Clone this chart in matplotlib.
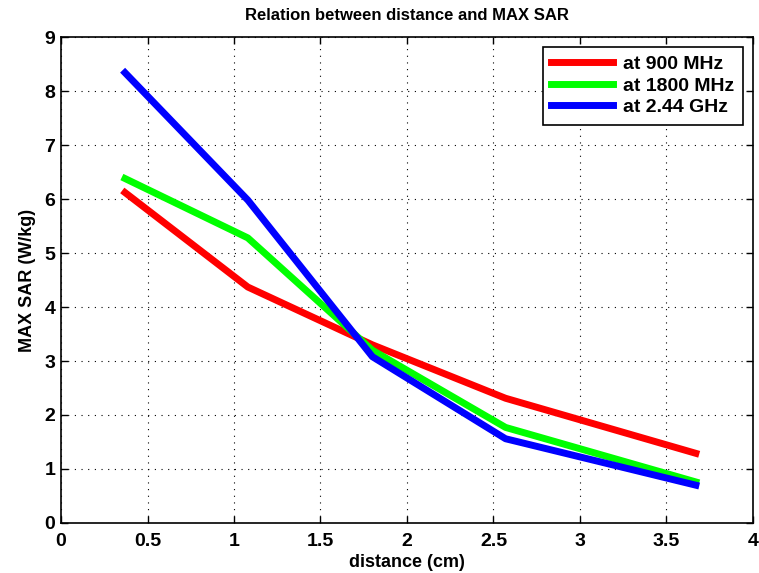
import matplotlib
matplotlib.use("Agg")
import matplotlib.pyplot as plt

plt.rcParams["font.family"] = ["Liberation Sans", "DejaVu Sans"]
plt.rcParams["font.weight"] = "bold"

distance = [0.37, 1.08, 1.80, 2.57, 3.67]
sar_900 = [6.12, 4.37, 3.30, 2.31, 1.29]
sar_1800 = [6.38, 5.28, 3.20, 1.77, 0.76]
sar_244 = [8.34, 5.98, 3.08, 1.56, 0.70]
labels = ["at 900 MHz", "at 1800 MHz", "at 2.44 GHz"]

fig = plt.figure(figsize=(7.59, 5.73), dpi=100)
ax = fig.add_axes([0.0804, 0.0873, 0.9116, 0.848])

ax.plot(distance, sar_900, color="#ff0000", linewidth=5, label=labels[0])
ax.plot(distance, sar_1800, color="#00ff00", linewidth=5, label=labels[1])
ax.plot(distance, sar_244, color="#0000ff", linewidth=5, label=labels[2])

ax.set_xlim(0, 4)
ax.set_ylim(0, 9)
ax.set_xticks([0, 0.5, 1, 1.5, 2, 2.5, 3, 3.5, 4])
ax.set_xticklabels(["0", "0.5", "1", "1.5", "2", "2.5", "3", "3.5", "4"])
ax.set_yticks(range(10))

ax.grid(True, color="black", linestyle=(0, (1, 5)), linewidth=0.8)
ax.tick_params(direction="in", top=True, right=True, length=5, width=1,
               labelsize=14, pad=4)
ax.tick_params(axis="x", pad=7)
for s in ax.spines.values():
    s.set_linewidth(1.2)

ax.set_xlabel("distance (cm)", fontsize=13, fontweight="bold", labelpad=3)
ax.set_ylabel("MAX SAR (W/kg)", fontsize=13, fontweight="bold", labelpad=6)
ax.set_title("Relation between distance and MAX SAR", fontsize=12,
             fontweight="bold", pad=12)

leg = ax.legend(loc="upper right", fontsize=14, handlelength=3.2,
                fancybox=False, edgecolor="black", framealpha=1,
                borderaxespad=0.5, labelspacing=0.2, handletextpad=0.5,
                borderpad=0.45)
leg.get_frame().set_linewidth(1.2)

fig.savefig("out.png", dpi=100)
